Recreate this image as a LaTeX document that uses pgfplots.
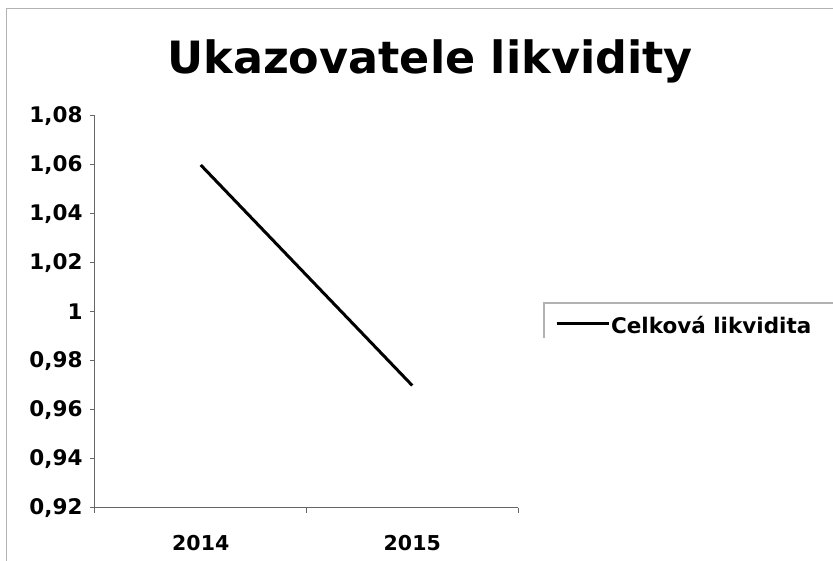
\documentclass[border=0pt]{standalone}
\usepackage{fontspec}
\setmainfont{DejaVu Sans}
\usepackage{pgfplots}
\pgfplotsset{compat=1.18}
\begin{document}
\begin{tikzpicture}[x=1pt,y=1pt]
\useasboundingbox (0,0) rectangle (833,561);
\draw[gray!60, line width=1pt] (6,-20) -- (6,552) -- (860,552);
\begin{axis}[
  at={(95pt,53pt)}, anchor=south west,
  scale only axis, width=423pt, height=392pt,
  xmin=0.5, xmax=2.5, ymin=0.92, ymax=1.08,
  axis x line=bottom, axis y line=left,
  axis line style={-, draw=gray!80!black, line width=1pt},
  tick style={draw=gray!80!black, line width=1pt},
  tick align=outside, major tick length=5pt,
  xtick={0.5,1.5,2.5}, xticklabels={},
  extra x ticks={1,2}, extra x tick labels={2014,2015},
  extra x tick style={tick style={draw=none}, tick label style={yshift=-19pt, font=\fontsize{20.5}{24}\selectfont\bfseries}},
  ytick={0.92,0.94,0.96,0.98,1,1.02,1.04,1.06,1.08},
  /pgf/number format/use comma,
  /pgf/number format/fixed,
  /pgf/number format/precision=2,
  /pgf/number format/assume math mode=true,
  y tick label style={xshift=-4pt, font=\fontsize{21.5}{25}\selectfont\bfseries},
  title={Ukazovatele likvidity},
  title style={at={(0.792,1.094)}, anchor=base, font=\fontsize{44.5}{52}\selectfont\bfseries},
  legend style={at={(1.066,0.464)}, anchor=west, draw=none, fill=none, inner sep=9pt,
    nodes={inner sep=1pt}, font=\fontsize{21.5}{25}\selectfont\bfseries},
  legend image code/.code={\draw[#1] (0pt,0.28em) -- (52pt,0.28em);},
  clip=false,
]
\addplot[black, line width=3pt] coordinates {(1,1.06) (2,0.97)};
\addlegendentry{Celková likvidita}
\end{axis}
\draw[gray!60, line width=2pt] (544,223) -- (544,258) -- (860,258);
\end{tikzpicture}
\end{document}
